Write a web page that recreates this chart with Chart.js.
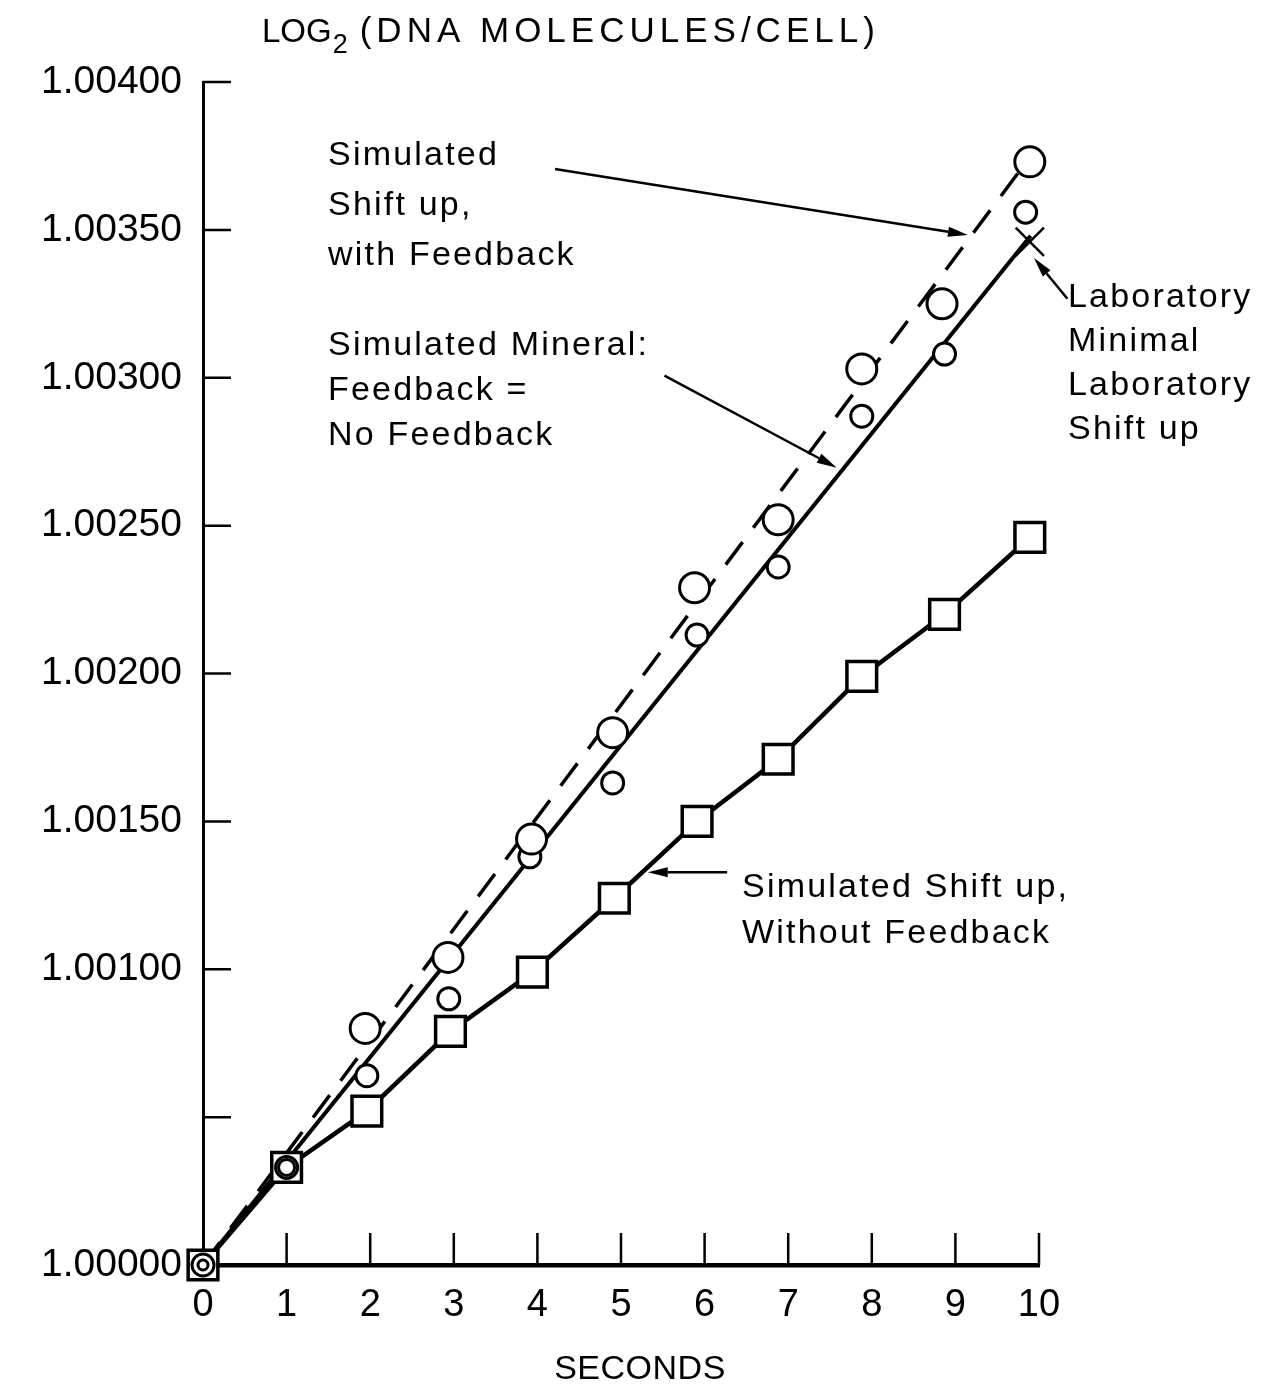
<!DOCTYPE html>
<html>
<head>
<meta charset="utf-8">
<title>LOG2 (DNA molecules/cell) against seconds</title>
<script src="https://cdn.jsdelivr.net/npm/chart.js@4.4.0/dist/chart.umd.min.js"></script>
<style>
  html, body { margin: 0; padding: 0; background: #fff; }
  canvas { display: block; }
</style>
</head>
<body>
<canvas id="dnaChart" width="1261" height="1389"></canvas>
<script>
// values: x in seconds, y in log2(DNA molecules/cell)

// simulated shift up, with feedback (large circles)
const feedbackX = [0, 1, 1.94, 2.93, 3.93, 4.90, 5.88, 6.88, 7.88, 8.84, 9.89];
const feedbackY = [1.00000, 1.00033, 1.00080, 1.00104, 1.00144, 1.00180, 1.00229, 1.00252, 1.00303, 1.00325, 1.00373];

// laboratory shift up (small circles)
const labShiftX = [0, 1, 1.96, 2.94, 3.91, 4.90, 5.91, 6.88, 7.88, 8.87, 9.84];
const labShiftY = [1.00000, 1.00033, 1.00064, 1.00090, 1.00138, 1.00163, 1.00213, 1.00236, 1.00287, 1.00308, 1.00356];

// simulated shift up, without feedback (squares)
const noFeedbackX = [0, 1, 1.96, 2.96, 3.94, 4.92, 5.91, 6.88, 7.88, 8.87, 9.89];
const noFeedbackY = [1.00000, 1.00033, 1.00052, 1.00079, 1.00099, 1.00124, 1.00150, 1.00171, 1.00199, 1.00220, 1.00246];

// simulated mineral, feedback = no feedback (solid line)
const mineralX = [0, 9.90];
const mineralY = [1.00000, 1.00348];

// simulated shift up with feedback (dashed line)
const feedbackLineX = [0, 9.77];
const feedbackLineY = [1.00000, 1.00370];

// laboratory minimal (cross)
const labMinimalX = [9.89];
const labMinimalY = [1.00346];

const secondsMin = 0;
const secondsMax = 10;
const logMin = 1.0;
const logMax = 1.004;
const logStep = 0.0005;
const unlabeledTick = 1.0005;

const toPoints = (xs, ys) => xs.map((x, i) => ({ x: x, y: ys[i] }));

const FONT = '"Liberation Sans", Arial, sans-serif';

// text blocks and arrows drawn on top of the chart
const notes = [
  { lines: ["Simulated", "Shift up,", "with Feedback"], x: 328, y: 165, step: 50 },
  { lines: ["Simulated Mineral:", "Feedback =", "No Feedback"], x: 328, y: 355, step: 45 },
  { lines: ["Simulated Shift up,", "Without Feedback"], x: 742, y: 897, step: 46 },
  { lines: ["Laboratory", "Minimal", "Laboratory", "Shift up"], x: 1068, y: 307, step: 44 },
];

// arrow tails and heads, in data units
const arrows = [
  { from: [4.21, 1.003706], to: [9.15, 1.003483] },
  { from: [5.52, 1.003007], to: [7.58, 1.002696] },
  { from: [6.27, 1.001328], to: [5.32, 1.001328] },
  { from: [10.34, 1.003267], to: [9.94, 1.003405] },
];

const drawText = (ctx, str, x, y, size, spacing) => {
  ctx.font = size + "px " + FONT;
  ctx.letterSpacing = spacing + "px";
  ctx.fillText(str, x, y);
  return ctx.measureText(str).width;
};

const inwardTicks = {
  id: "inwardTicks",
  beforeDatasetsDraw(chart) {
    const { ctx, chartArea, scales } = chart;
    ctx.save();
    ctx.strokeStyle = "#000";
    ctx.lineWidth = 2.5;
    ctx.beginPath();
    scales.y.ticks.forEach((t) => {
      if (Math.abs(t.value - logMin) < 1e-9) return;
      const py = scales.y.getPixelForValue(t.value);
      ctx.moveTo(chartArea.left, py);
      ctx.lineTo(chartArea.left + 28, py);
    });
    scales.x.ticks.forEach((t) => {
      if (t.value === secondsMin) return;
      const px = scales.x.getPixelForValue(t.value);
      ctx.moveTo(px, chartArea.bottom);
      ctx.lineTo(px, chartArea.bottom - 32);
    });
    ctx.stroke();
    ctx.restore();
  },
};

const annotations = {
  id: "annotations",
  afterDraw(chart) {
    const { ctx, scales } = chart;
    ctx.save();
    ctx.fillStyle = "#000";
    ctx.strokeStyle = "#000";
    ctx.textAlign = "left";
    ctx.textBaseline = "alphabetic";

    // axis titles
    let tx = 262;
    tx += drawText(ctx, "LOG", tx, 42, 33, 0) + 1;
    tx += drawText(ctx, "2", tx, 53, 27, 0) + 12;
    drawText(ctx, "(DNA MOLECULES/CELL)", tx, 42, 35, 5);
    ctx.textAlign = "center";
    drawText(ctx, "SECONDS", 640, 1379, 34, 0.5);
    ctx.textAlign = "left";

    notes.forEach((n) => {
      n.lines.forEach((line, i) => drawText(ctx, line, n.x, n.y + i * n.step, 34, 2.2));
    });

    ctx.letterSpacing = "0px";
    ctx.lineWidth = 2.5;
    arrows.forEach((a) => {
      const x1 = scales.x.getPixelForValue(a.from[0]);
      const y1 = scales.y.getPixelForValue(a.from[1]);
      const x2 = scales.x.getPixelForValue(a.to[0]);
      const y2 = scales.y.getPixelForValue(a.to[1]);
      const ang = Math.atan2(y2 - y1, x2 - x1);
      const len = 20;
      const half = 5;
      const bx = x2 - Math.cos(ang) * len;
      const by = y2 - Math.sin(ang) * len;
      ctx.beginPath();
      ctx.moveTo(x1, y1);
      ctx.lineTo(bx, by);
      ctx.stroke();
      ctx.beginPath();
      ctx.moveTo(x2, y2);
      ctx.lineTo(bx + Math.sin(ang) * half, by - Math.cos(ang) * half);
      ctx.lineTo(bx - Math.sin(ang) * half, by + Math.cos(ang) * half);
      ctx.closePath();
      ctx.fill();
    });
    ctx.restore();
  },
};

const createChart = (canvas) => {
  const ctx = canvas.getContext("2d");

  return new Chart(ctx, {
    type: "scatter",
    data: {
      datasets: [
        {
          label: "Laboratory Minimal",
          data: toPoints(labMinimalX, labMinimalY),
          pointStyle: "crossRot",
          pointRadius: 20,
          pointBorderWidth: 2.5,
          pointBorderColor: "#000",
          showLine: false,
          clip: false,
        },
        {
          label: "Simulated Shift up, with Feedback",
          data: toPoints(feedbackX, feedbackY),
          pointStyle: "circle",
          pointRadius: (c) => (c.dataIndex === 0 ? 5 : c.dataIndex === 1 ? 8 : 15),
          pointBorderWidth: 3,
          pointBorderColor: "#000",
          pointBackgroundColor: "#fff",
          showLine: false,
          clip: false,
        },
        {
          label: "Laboratory Shift up",
          data: toPoints(labShiftX, labShiftY),
          pointStyle: "circle",
          pointRadius: 11,
          pointBorderWidth: 3,
          pointBorderColor: "#000",
          pointBackgroundColor: "#fff",
          showLine: false,
          clip: false,
        },
        {
          label: "Simulated Shift up, Without Feedback",
          data: toPoints(noFeedbackX, noFeedbackY),
          pointStyle: "rect",
          pointRadius: 21,
          pointBorderWidth: 3.5,
          pointBorderColor: "#000",
          pointBackgroundColor: "#fff",
          showLine: true,
          borderColor: "#000",
          borderWidth: 4.5,
          clip: false,
        },
        {
          label: "Simulated Mineral",
          data: toPoints(mineralX, mineralY),
          pointRadius: 0,
          showLine: true,
          borderColor: "#000",
          borderWidth: 4,
          clip: false,
        },
        {
          label: "Simulated Shift up, with Feedback (line)",
          data: toPoints(feedbackLineX, feedbackLineY),
          pointRadius: 0,
          showLine: true,
          borderColor: "#000",
          borderWidth: 3.5,
          borderDash: [28, 18],
          clip: false,
        },
      ],
    },
    options: {
      responsive: false,
      animation: false,
      layout: {
        padding: { left: 0, right: 222, top: 82, bottom: 0 },
      },
      scales: {
        x: {
          type: "linear",
          min: secondsMin,
          max: secondsMax,
          ticks: {
            stepSize: 1,
            color: "#000",
            padding: 18,
            font: { family: FONT, size: 38 },
          },
          grid: { display: false, drawTicks: false },
          border: { color: "#000", width: 4.5 },
          afterFit: (scale) => {
            scale.height = 124;
          },
        },
        y: {
          type: "linear",
          min: logMin,
          max: logMax,
          ticks: {
            stepSize: logStep,
            color: "#000",
            padding: 21,
            font: { family: FONT, size: 39 },
            callback: (value) =>
              Math.abs(value - unlabeledTick) < 1e-9 ? "" : Number(value).toFixed(5),
          },
          grid: { display: false, drawTicks: false },
          border: { color: "#000", width: 3 },
          afterFit: (scale) => {
            scale.width = 203;
          },
        },
      },
      plugins: {
        legend: { display: false },
        tooltip: { enabled: false },
      },
    },
    plugins: [inwardTicks, annotations],
  });
};

createChart(document.getElementById("dnaChart"));
</script>
</body>
</html>
